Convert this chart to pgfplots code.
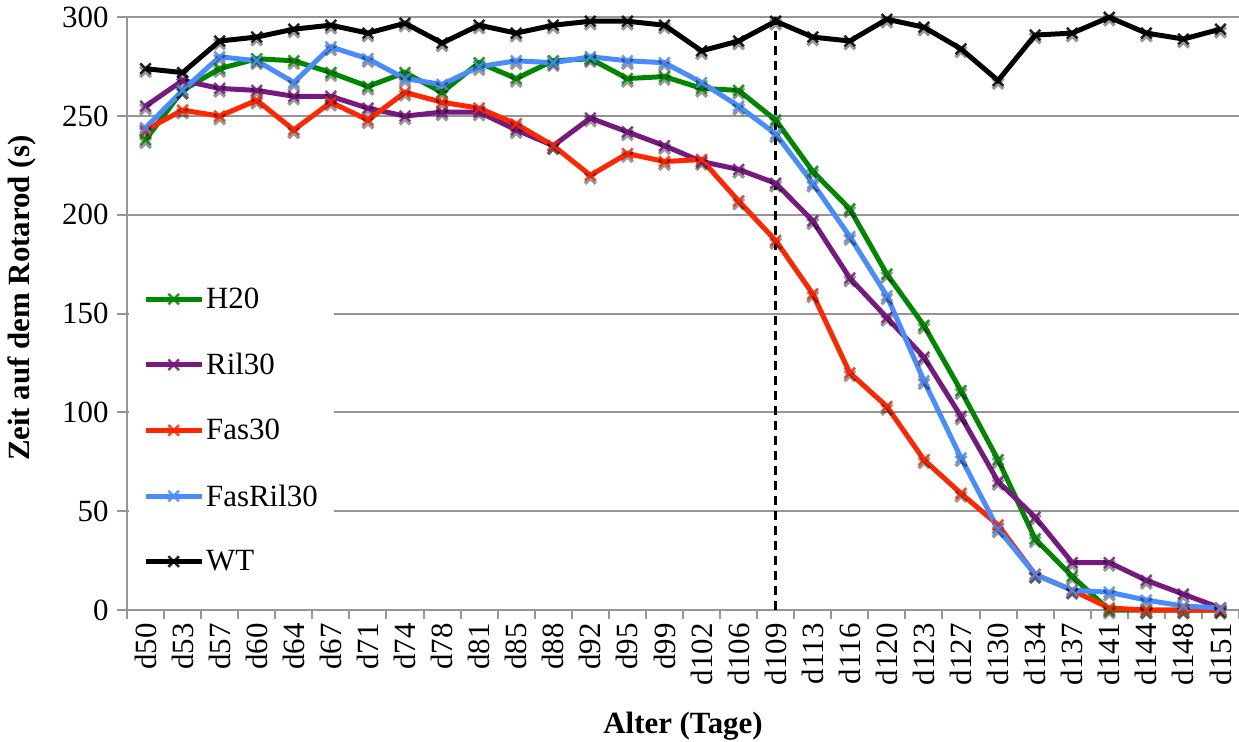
\documentclass[border=0pt]{standalone}
\usepackage{pgfplots}
\usepackage{pgfplotstable}
\pgfplotsset{compat=1.18}
\usepackage{fontspec}
\setmainfont{Liberation Serif}
\newfontfamily\tnr{Liberation Serif}
\definecolor{cH}{RGB}{0,135,0}
\definecolor{cR}{RGB}{118,26,128}
\definecolor{cF}{RGB}{255,38,0}
\definecolor{cB}{RGB}{72,140,255}
\definecolor{gridc}{RGB}{150,150,150}
\pgfplotstableread{
x H20 Ril30 Fas30 FasRil30 WT
0 238 255 243 244 274
1 263 268 253 263 272
2 274 264 250 280 288
3 279 263 258 278 290
4 278 260 243 267 294
5 272 260 257 285 296
6 265 254 248 279 292
7 272 250 262 269 297
8 262 252 257 266 287
9 277 252 254 275 296
10 269 243 246 278 292
11 278 235 235 277 296
12 279 249 220 280 298
13 269 242 231 278 298
14 270 235 227 277 296
15 264 227 228 267 283
16 263 223 207 255 288
17 248 216 187 241 298
18 222 197 160 216 290
19 203 168 120 189 288
20 170 148 103 159 299
21 144 128 76 116 295
22 111 98 59 77 284
23 76 65 43 41 268
24 36 47 18 18 291
25 17 24 10 10 292
26 0 24 1 9 300
27 0 15 0 5 292
28 0 8 0 2 289
29 0 1 0 1 294
}\data
\pgfplotsset{
  shadowmark/.style={forget plot, only marks, mark=x, mark size=7.5bp,
     mark options={black, opacity=0.4, line width=3.5bp, yshift=-3bp}},
  ser/.style={color=#1, line width=5bp, mark=x, mark size=7.5bp,
     mark options={solid, line width=2.5bp, opacity=0.85}},
}
\begin{document}
\begin{tikzpicture}
\begin{axis}[
  scale only axis,
  width=1112bp, height=592.7bp,
  xmin=-0.5, xmax=29.5, ymin=0, ymax=300,
  clip=false,
  axis x line=bottom, axis y line=left,
  axis line style={-, draw=gridc, line width=2.5bp},
  ytick={0,50,...,300},
  ymajorgrids,
  major grid style={draw=gridc, line width=2bp},
  xtick={0,...,29},
  xticklabels={d50,d53,d57,d60,d64,d67,d71,d74,d78,d81,d85,d88,d92,d95,d99,d102,d106,d109,d113,d116,d120,d123,d127,d130,d134,d137,d141,d144,d148,d151},
  minor xtick={-0.5,0.5,...,29.5},
  major x tick style={draw=none},
  tick align=outside,
  major tick length=10bp, minor tick length=9bp,
  tick style={draw=gridc, line width=2bp},
  /pgf/number format/assume math mode=true,
  tick label style={font=\tnr\fontsize{31}{37}\selectfont},
  yticklabel style={xshift=-5bp},
  xticklabel style={rotate=90, anchor=east},
  label style={font=\tnr\fontsize{31}{37}\selectfont\bfseries},
  xlabel={Alter (Tage)},
  xlabel style={yshift=-20bp},
  ylabel={Zeit auf dem Rotarod (s)},
  ylabel style={at={(axis description cs:-0.110,0.526)}, anchor=north},
  legend style={at={(rel axis cs:0,0.557)}, xshift=2bp, anchor=north west, draw=none, fill=white,
     inner xsep=14bp, inner ysep=6bp, row sep=39.2bp,
     font=\tnr\fontsize{31}{37}\selectfont, cells={anchor=west}},
  legend image code/.code={\draw[mark repeat=2,mark phase=2,#1] plot coordinates {(0bp,0bp)(28bp,0bp)(56bp,0bp)};},
]
\addplot[shadowmark] table[x=x,y=H20]{\data};
\addplot[shadowmark] table[x=x,y=Ril30]{\data};
\addplot[shadowmark] table[x=x,y=Fas30]{\data};
\addplot[shadowmark] table[x=x,y=FasRil30]{\data};
\addplot[shadowmark] table[x=x,y=WT]{\data};
\addplot[forget plot, black, dashed, line width=2.5bp, dash pattern=on 9bp off 6bp] coordinates {(17,0) (17,300)};
\addplot[ser=cH] table[x=x,y=H20]{\data};
\addlegendentry{H20}
\addplot[ser=cR] table[x=x,y=Ril30]{\data};
\addlegendentry{Ril30}
\addplot[ser=cF] table[x=x,y=Fas30]{\data};
\addlegendentry{Fas30}
\addplot[ser=cB] table[x=x,y=FasRil30]{\data};
\addlegendentry{FasRil30}
\addplot[ser=black] table[x=x,y=WT]{\data};
\addlegendentry{WT}
\end{axis}
\pgfresetboundingbox
\path[use as bounding box] ([shift={(-127bp,-132bp)}]current axis.south west) rectangle ([shift={(0bp,17.3bp)}]current axis.north east);
\end{tikzpicture}
\end{document}
